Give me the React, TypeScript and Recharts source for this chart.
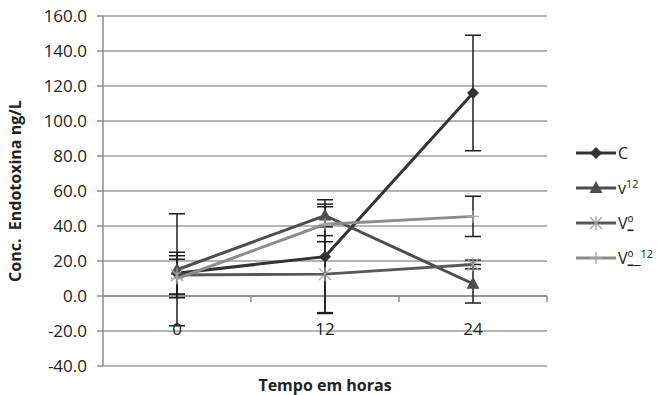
import React from 'react';
import {
  LineChart,
  Line,
  XAxis,
  YAxis,
  CartesianGrid,
  ErrorBar,
  ReferenceLine,
} from 'recharts';

const hours = [0, 12, 24];
const yTicks = [-40, -20, 0, 20, 40, 60, 80, 100, 120, 140, 160];
const categoryEdges = [6, 18, 30];

const cValues = [13, 22.5, 116];
const cErr = [12, 32.5, 33];
const v12Values = [15, 46, 7];
const v12Err = [32, 6.5, 11];
const voValues = [12, 12.5, 18];
const voErr = [11, 22, 2.5];
const vo12Values = [10, 41, 45.5];
const vo12Err = [11, 10, 11.5];

const data = hours.map((h, i) => ({
  h,
  c: cValues[i],
  cErr: cErr[i],
  v12: v12Values[i],
  v12Err: v12Err[i],
  vo: voValues[i],
  voErr: voErr[i],
  vo12: vo12Values[i],
  vo12Err: vo12Err[i],
}));

const FONT = '"Open Sans", sans-serif';

type Kind = 'diamond' | 'triangle' | 'star' | 'plus';

function Marker({ cx, cy, kind, color }: { cx: number; cy: number; kind: Kind; color: string }) {
  if (kind === 'diamond') {
    return <polygon points={`${cx},${cy - 6} ${cx + 6},${cy} ${cx},${cy + 6} ${cx - 6},${cy}`} fill={color} />;
  }
  if (kind === 'triangle') {
    return <polygon points={`${cx},${cy - 7} ${cx + 6.5},${cy + 5} ${cx - 6.5},${cy + 5}`} fill={color} />;
  }
  if (kind === 'star') {
    const s = 6;
    return (
      <g stroke="#a0a0a0" strokeWidth={1.3}>
        <line x1={cx - s} y1={cy - s} x2={cx + s} y2={cy + s} />
        <line x1={cx - s} y1={cy + s} x2={cx + s} y2={cy - s} />
        <line x1={cx} y1={cy - s - 1} x2={cx} y2={cy + s + 1} />
      </g>
    );
  }
  return (
    <g stroke="#a8a8a8" strokeWidth={1.3}>
      <line x1={cx} y1={cy - 6} x2={cx} y2={cy + 6} />
      <line x1={cx - 6} y1={cy} x2={cx + 6} y2={cy} />
    </g>
  );
}

const series: { key: string; err: string; color: string; kind: Kind }[] = [
  { key: 'c', err: 'cErr', color: '#333333', kind: 'diamond' },
  { key: 'v12', err: 'v12Err', color: '#4d4d4d', kind: 'triangle' },
  { key: 'vo', err: 'voErr', color: '#595959', kind: 'star' },
  { key: 'vo12', err: 'vo12Err', color: '#8c8c8c', kind: 'plus' },
];

// legend names, written with tspans for the superscripts / underlined º
const legendNames: React.ReactNode[] = [
  'C',
  <>
    v<tspan fontSize={11} dy={-6}>12</tspan>
  </>,
  <>
    V<tspan textDecoration="underline">º</tspan>
  </>,
  <>
    V<tspan textDecoration="underline">º</tspan>_<tspan fontSize={11} dy={-6}>12</tspan>
  </>,
];

function LegendBox() {
  return (
    <svg width={90} height={140} style={{ position: 'absolute', left: 576, top: 143 }}>
      {series.map((s, i) => {
        const y = 10 + i * 35;
        return (
          <g key={s.key}>
            <line x1={0} y1={y} x2={40} y2={y} stroke={s.color} strokeWidth={3} />
            <Marker cx={20} cy={y} kind={s.kind} color={s.color} />
            <text x={42} y={y + 5.5} fontSize={16} fontFamily={FONT} fill="#222">
              {legendNames[i]}
            </text>
          </g>
        );
      })}
    </svg>
  );
}

function HourTick(props: any) {
  const { x, y, payload } = props;
  return (
    <text x={x} y={y - 46} textAnchor="middle" dominantBaseline="central" fontSize={17} fontFamily={FONT} fill="#222">
      {payload.value}
    </text>
  );
}

export default function App() {
  return (
    <div style={{ position: 'absolute', left: 0, top: 0, width: 658, height: 395, background: '#fff' }}>
      <LineChart width={658} height={395} data={data} margin={{ top: 16, right: 111, bottom: 0, left: 0 }}>
        <CartesianGrid vertical={false} stroke="#9c9c9c" strokeWidth={1.5} />
        <XAxis
          dataKey="h"
          type="number"
          domain={[-6, 30]}
          ticks={hours}
          axisLine={false}
          tickLine={false}
          height={29}
          tick={<HourTick />}
          label={{
            value: 'Tempo em horas',
            position: 'insideBottom',
            offset: 4,
            style: { fontFamily: FONT, fontWeight: 700, fontSize: 16, fill: '#222' },
          }}
        />
        <YAxis
          domain={[-40, 160]}
          ticks={yTicks}
          interval={0}
          width={103}
          tickFormatter={(v: number) => v.toFixed(1)}
          stroke="#8c8c8c"
          strokeWidth={1.5}
          tickSize={6}
          tickMargin={10}
          tick={{ fill: '#222', fontSize: 17, fontFamily: FONT }}
          label={{
            value: 'Conc.\u00a0 Endotoxina ng/L',
            angle: -90,
            position: 'insideLeft',
            offset: 15,
            style: { fontFamily: FONT, fontWeight: 700, fontSize: 16, fill: '#222', textAnchor: 'middle' },
          }}
        />
        <ReferenceLine y={0} stroke="#8c8c8c" strokeWidth={1.5} />
        {categoryEdges.map((e) => (
          <ReferenceLine
            key={e}
            segment={[
              { x: e, y: 0 },
              { x: e, y: -3.4 },
            ]}
            stroke="#8c8c8c"
            strokeWidth={1.5}
          />
        ))}
        {series.map((s) => (
          <Line
            key={s.key}
            dataKey={s.key}
            stroke={s.color}
            strokeWidth={3}
            isAnimationActive={false}
            dot={(p: any) => <Marker key={`${s.key}-${p.index}`} cx={p.cx} cy={p.cy} kind={s.kind} color={s.color} />}
            activeDot={false}
          >
            <ErrorBar dataKey={s.err} width={8} stroke="#1e1e1e" strokeWidth={1.5} />
          </Line>
        ))}
      </LineChart>
      <LegendBox />
    </div>
  );
}
